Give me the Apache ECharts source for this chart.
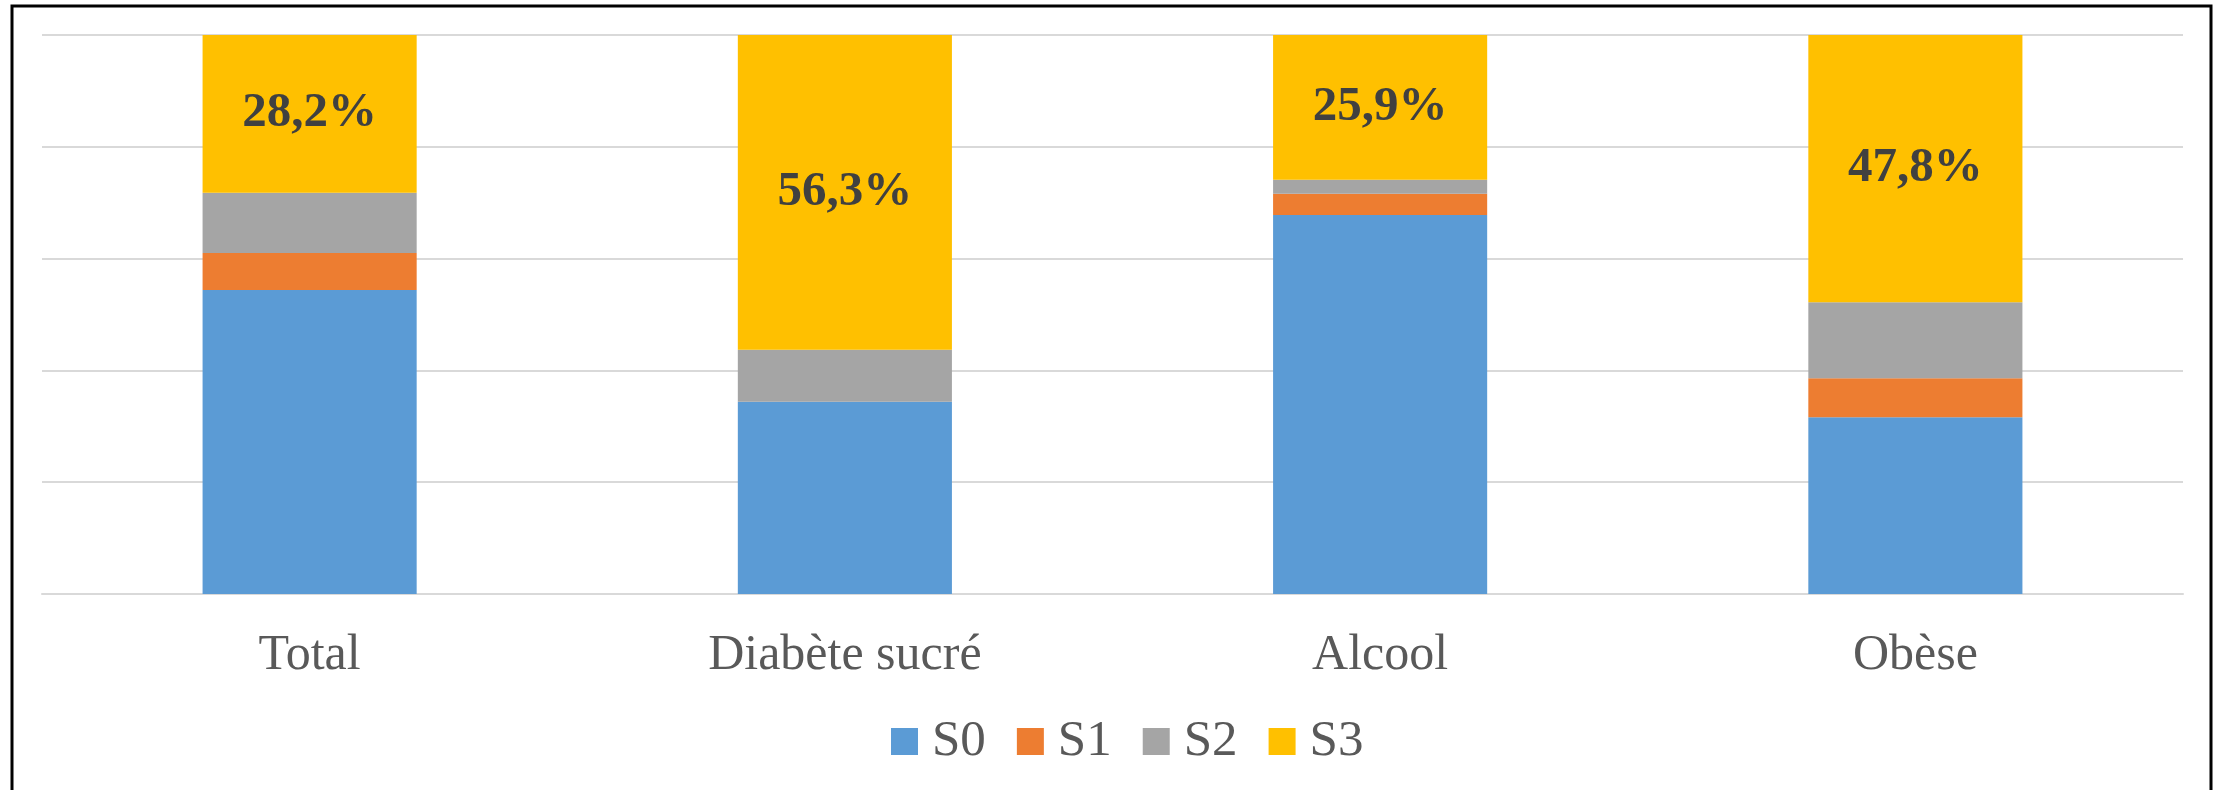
<!DOCTYPE html>
<html>
<head>
<meta charset="utf-8">
<script src="https://cdn.jsdelivr.net/npm/echarts@6/dist/echarts.min.js"></script>
<style>
	html, body { margin: 0; padding: 0; background: #fff; }
	#chart { width: 2223px; height: 790px; }
</style>
</head>
<body>
<div id="chart"></div>
<script>
// 类别与各级数据（百分比）
const categories = ["Total", "Diabète sucré", "Alcool", "Obèse"];
const s0 = [54.4, 34.4, 67.8, 31.6];
const s1 = [6.6, 0, 3.8, 7.0];
const s2 = [10.8, 9.3, 2.5, 13.6];
const s3 = [28.2, 56.3, 25.9, 47.8];
const seriesNames = ["S0", "S1", "S2", "S3"];
const seriesValues = [s0, s1, s2, s3];
const colors = ["#5B9BD5", "#ED7D31", "#A5A5A5", "#FFC000"];

const serif = "'Liberation Serif', 'DejaVu Serif', serif";

const chart = echarts.init(document.getElementById("chart"));

const option = {
	animation: false,
	color: colors,
	// 外框
	graphic: [
		{
			type: "rect",
			shape: { x: 12, y: 6, width: 2199, height: 790 },
			style: { fill: "none", stroke: "#000", lineWidth: 3 },
			silent: true,
		},
	],
	grid: {
		left: 42,
		right: 40,
		top: 35,
		bottom: 196,
	},
	legend: {
		data: seriesNames,
		left: 886,
		top: 711,
		itemWidth: 27,
		itemHeight: 27,
		itemGap: 31,
		icon: "rect",
		textStyle: {
			fontFamily: serif,
			fontSize: 51,
			color: "#595959",
			padding: [0, 0, 0, 9],
		},
	},
	xAxis: {
		type: "category",
		data: categories,
		axisTick: { show: false },
		axisLine: { lineStyle: { color: "#D9D9D9", width: 2 } },
		axisLabel: {
			fontFamily: serif,
			fontSize: 50,
			color: "#595959",
			margin: 37,
		},
	},
	yAxis: {
		type: "value",
		min: 0,
		max: 100,
		interval: 20,
		axisLabel: { show: false },
		axisLine: { show: false },
		axisTick: { show: false },
		splitLine: { lineStyle: { color: "#D9D9D9", width: 2 } },
	},
	series: seriesNames.map((name, i) => ({
		name: name,
		type: "bar",
		stack: "total",
		barCategoryGap: "60%",
		data: seriesValues[i],
		label: i === 3
			? {
					show: true,
					position: "inside",
					fontFamily: serif,
					fontWeight: "bold",
					fontSize: 49,
					color: "#404040",
					formatter: (p) => p.value.toFixed(1).replace(".", ",") + "%",
				}
			: { show: false },
	})),
};

chart.setOption(option);
</script>
</body>
</html>
